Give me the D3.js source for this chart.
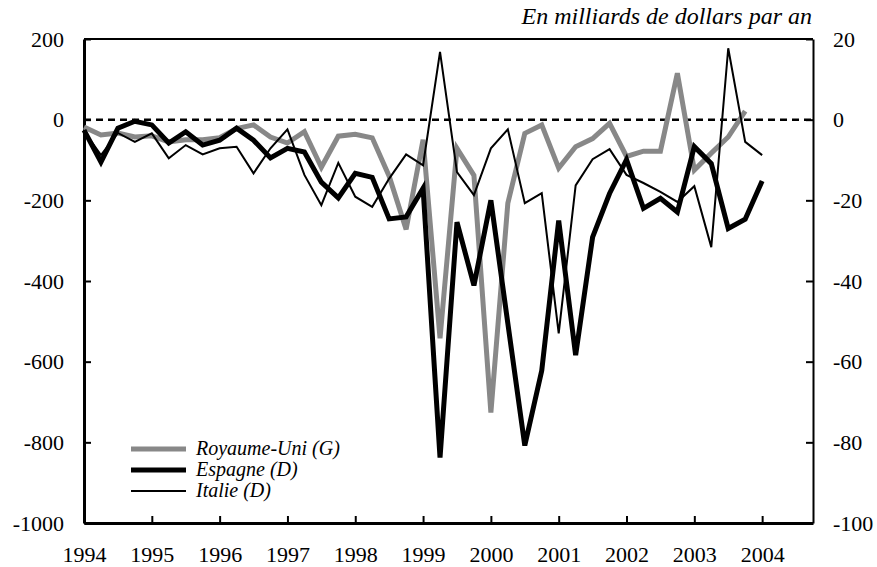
<!DOCTYPE html>
<head>
  <meta charset="utf-8">
  <style>
    body { margin: 0; background: #fff; }
    svg text { font-family: "Liberation Serif", "DejaVu Serif", serif; fill: #000; }
    svg .tick text { font-size: 22px; }
    svg .legend text { font-size: 20px; font-style: italic; }
    svg .title { font-size: 24px; font-style: italic; }
  </style>
</head>
<body>
<script src="https://d3js.org/d3.v7.min.js"></script>
<script>
  // quarterly data, 1994 Q1 onwards
  var startYear = 1994;
  var yearTicks = [1994, 1995, 1996, 1997, 1998, 1999, 2000, 2001, 2002, 2003, 2004];
  var leftTicks = [-1000, -800, -600, -400, -200, 0, 200];
  var rightTicks = [-100, -80, -60, -40, -20, 0, 20];

  // Royaume-Uni, left axis
  var royaumeUni = [-18, -38, -33, -43, -40, -55, -50, -50, -45, -22, -13, -43,
                    -58, -30, -118, -41, -36, -45, -140, -272, -50, -542, -71, -138,
                    -726, -207, -34, -13, -120, -67, -47, -9, -91, -78, -78, 115,
                    -125, -83, -43, 21];
  // Espagne, right axis
  var espagne = [-2.6, -10.5, -2.1, -0.4, -1.3, -5.8, -3.0, -6.3, -5.1, -2.1, -5.1, -9.5,
                 -7.1, -8.0, -15.5, -19.4, -13.3, -14.3, -24.6, -24.1, -17.0, -83.8, -25.4, -41.1,
                 -20.0, -50.5, -80.8, -62.2, -25.0, -58.4, -29.1, -18.3, -9.9, -22.0, -19.5, -22.9,
                 -6.7, -10.9, -27.0, -24.7, -15.2];
  // Italie, right axis
  var italie = [-2.8, -8.8, -3.3, -5.5, -3.4, -9.6, -6.3, -8.6, -7.1, -6.7, -13.3, -7.1,
                -2.4, -13.7, -21.2, -10.7, -19.1, -21.6, -14.6, -8.6, -11.3, 16.8, -13.0, -18.7,
                -7.1, -2.4, -20.7, -18.2, -53.0, -16.3, -9.8, -7.3, -13.7, -15.7, -17.9, -20.4,
                -16.5, -31.6, 17.7, -5.5, -8.8];

  var plotL = 84, plotR = 813, plotT = 39, plotB = 523;

  var svg = d3.select("body").append("svg")
      .attr("width", 877)
      .attr("height", 567);

  var x = d3.scaleLinear().domain([1994, 2004.75]).range([plotL, plotR]);
  var yL = d3.scaleLinear().domain([-1000, 200]).range([plotB, plotT]);
  var yR = d3.scaleLinear().domain([-100, 20]).range([plotB, plotT]);

  var plain = function (d) { return String(d); };  // keep "-" hyphen like the original

  // frame: top line
  svg.append("line")
      .attr("x1", plotL).attr("x2", plotR)
      .attr("y1", plotT).attr("y2", plotT)
      .style("stroke", "#000").style("stroke-width", 2);

  // left axis
  var gl = svg.append("g")
      .attr("transform", "translate(" + plotL + ",0)")
      .call(d3.axisRight(yL).tickValues(leftTicks).tickSize(7).tickSizeOuter(0).tickFormat(plain));
  gl.select(".domain").style("stroke-width", 3);
  gl.selectAll(".tick line").style("stroke-width", 2);
  gl.selectAll(".tick text")
      .attr("x", -20)
      .style("text-anchor", "end");

  // right axis
  var gr = svg.append("g")
      .attr("transform", "translate(" + plotR + ",0)")
      .call(d3.axisLeft(yR).tickValues(rightTicks).tickSize(7).tickSizeOuter(0).tickFormat(plain));
  gr.select(".domain").style("stroke-width", 2);
  gr.selectAll(".tick line").style("stroke-width", 2);
  gr.selectAll(".tick text")
      .attr("x", 20)
      .style("text-anchor", "start");

  // bottom axis
  var gb = svg.append("g")
      .attr("transform", "translate(0," + plotB + ")")
      .call(d3.axisTop(x).tickValues(yearTicks).tickSize(7).tickSizeOuter(0).tickFormat(plain));
  gb.select(".domain").style("stroke-width", 3);
  gb.selectAll(".tick line").style("stroke-width", 2);
  gb.selectAll(".tick line").filter(function (d) { return d === 1994; }).remove();
  gb.selectAll(".tick text")
      .attr("y", 39)
      .attr("dy", "0");

  // zero line
  svg.append("line")
      .attr("x1", plotL).attr("x2", plotR)
      .attr("y1", yL(0)).attr("y2", yL(0))
      .style("stroke", "#000")
      .style("stroke-width", 2.5)
      .style("stroke-dasharray", "7,5");

  function qx(d, i) { return x(startYear + i / 4); }

  var lineL = d3.line().x(qx).y(function (d) { return yL(d); });
  var lineR = d3.line().x(qx).y(function (d) { return yR(d); });

  svg.append("path").datum(royaumeUni)
      .attr("d", lineL)
      .style("fill", "none").style("stroke", "#888888")
      .style("stroke-width", 5).style("stroke-linejoin", "miter");

  svg.append("path").datum(espagne)
      .attr("d", lineR)
      .style("fill", "none").style("stroke", "#000")
      .style("stroke-width", 5).style("stroke-linejoin", "miter");

  svg.append("path").datum(italie)
      .attr("d", lineR)
      .style("fill", "none").style("stroke", "#000")
      .style("stroke-width", 2).style("stroke-linejoin", "miter");

  // legend
  var legend = [
    { name: "Royaume-Uni (G)", color: "#888888", width: 5 },
    { name: "Espagne (D)", color: "#000", width: 5 },
    { name: "Italie (D)", color: "#000", width: 2 }
  ];
  var lg = svg.append("g").classed("legend", true);
  legend.forEach(function (s, i) {
    var yy = 449 + i * 21;
    lg.append("line")
        .attr("x1", 131).attr("x2", 186)
        .attr("y1", yy).attr("y2", yy)
        .style("stroke", s.color).style("stroke-width", s.width);
    lg.append("text")
        .attr("x", 196).attr("y", yy + 6)
        .text(s.name);
  });

  svg.append("text")
      .classed("title", true)
      .attr("x", plotR - 1)
      .attr("y", 24)
      .style("text-anchor", "end")
      .text("En milliards de dollars par an");
</script>
</body>
</html>
